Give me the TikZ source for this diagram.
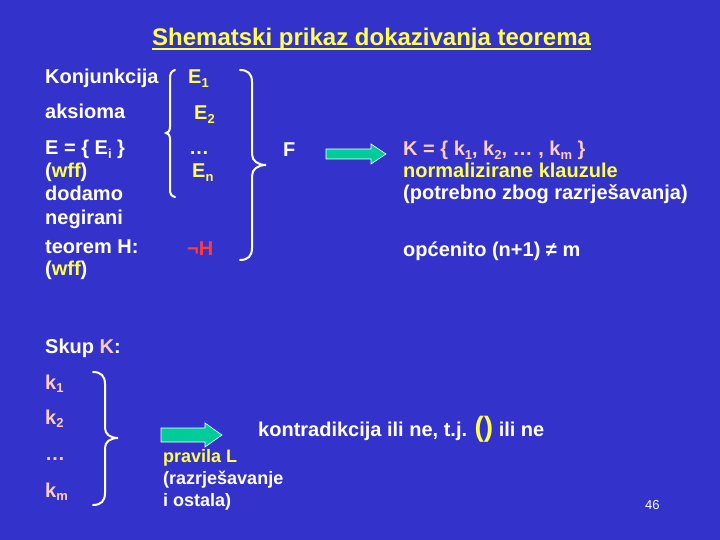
\documentclass[tikz,border=0pt]{standalone}
\usepackage{fontspec}
\setmainfont{Liberation Sans}
\definecolor{bg}{RGB}{51,51,204}
\definecolor{yel}{RGB}{255,255,80}
\definecolor{pnk}{RGB}{255,204,190}
\definecolor{rd}{RGB}{255,60,60}
\definecolor{grn}{RGB}{0,204,153}
\newcommand\mysb[1]{\raisebox{-3.5pt}{\fontsize{13}{13}\selectfont #1}}
\begin{document}
\begin{tikzpicture}[x=1pt,y=-1pt,
  txt/.style={anchor=base west, inner sep=0pt, text=white, font=\fontsize{20}{24}\selectfont\bfseries},
  small/.style={txt, font=\fontsize{18}{22}\selectfont\bfseries},
  brc/.style={draw=white, line width=2pt, line cap=round},
  blockarrow/.style={fill=grn, draw=white, line width=0.6pt, line join=miter}]
\fill[bg] (0,0) rectangle (720,540);
\useasboundingbox (0,0) rectangle (720,540);

% title
\node[txt, text=yel, font=\fontsize{24}{28}\selectfont\bfseries] (title) at (152,46) {Shematski prikaz dokazivanja teorema};
\draw[yel, line width=2pt] ([yshift=-3.5pt]title.base west) -- ([yshift=-3.5pt]title.base east);

% left column
\node[txt] (konj) at (45,84) {Konjunkcija};
\node[txt] (aks) at (45,119) {aksioma};
\node[txt] (eset) at (45,155) {E = \{ E\mysb{i} \}};
\node[txt] (wff1) at (45,178) {(\textcolor{yel}{wff})};
\node[txt] (dod) at (45,201) {dodamo};
\node[txt] (neg) at (45,225) {negirani};
\node[txt] (teo) at (45,253) {teorem H:};
\node[txt] (wff2) at (45,275) {(\textcolor{yel}{wff})};

% E column
\node[txt, text=yel] (e1) at (188,84) {E\mysb{1}};
\node[txt, text=yel] (e2) at (194,120) {E\mysb{2}};
\node[txt, text=yel] (edots) at (189,155) {…};
\node[txt, text=yel] (en) at (192,178) {E\mysb{n}};
\node[txt, text=rd] (negh) at (187,255) {¬H};

% small left brace
\draw[brc] (175,70) .. controls (171,71) and (170,74) .. (170,79) -- (170,127)
  .. controls (170,131) and (168,133) .. (166,133)
  .. controls (168,133) and (170,135) .. (170,139) -- (170,189)
  .. controls (170,194) and (171,196) .. (175,197);

% big right brace
\draw[brc] (240,70) .. controls (248,70) and (252,74) .. (252,82) -- (252,154)
  .. controls (252,161) and (258,165) .. (266,165)
  .. controls (258,165) and (252,169) .. (252,176) -- (252,248)
  .. controls (252,256) and (248,260) .. (240,260);

\node[txt] (F) at (283,157) {F};

% arrow 1
\filldraw[blockarrow] (326,149) -- (371,149) -- (371,144) -- (386,154) -- (371,164) -- (371,159) -- (326,159) -- cycle;

% K block
\node[txt, text=pnk] (kset) at (403,156) {K = \{ k\mysb{1}, k\mysb{2}, … , k\mysb{m} \}};
\node[txt, text=yel] (norm) at (403,178) {normalizirane klauzule};
\node[txt] (potr) at (403,200) {(potrebno zbog razrješavanja)};
\node[txt] (opc) at (403,256) {općenito (n+1) ≠ m};

% Skup K
\node[txt] (skup) at (45,353) {Skup \textcolor{pnk}{K}:};
\node[txt, text=pnk] (k1) at (45,389) {k\mysb{1}};
\node[txt, text=pnk] (k2) at (45,424) {k\mysb{2}};
\node[txt, text=pnk] (kdots) at (45,460) {…};
\node[txt, text=pnk] (km) at (45,497) {k\mysb{m}};

\draw[brc] (93,372) .. controls (101,372) and (105,376) .. (105,384) -- (105,428)
  .. controls (105,434) and (110,438) .. (118,438)
  .. controls (110,438) and (105,442) .. (105,448) -- (105,493)
  .. controls (105,501) and (101,505) .. (93,505);

% arrow 2
\filldraw[blockarrow] (161,428) -- (205,428) -- (205,423) -- (222,435) -- (205,447) -- (205,442) -- (161,442) -- cycle;

\node[txt] (kontr) at (258,436) {kontradikcija ili ne, t.j. {\fontsize{28}{28}\selectfont\textcolor{yel}{()}} ili ne};

\node[small, text=yel] (prav) at (163,462) {pravila L};
\node[small] (razr) at (163,484) {(razrješavanje};
\node[small] (ost) at (163,506) {i ostala)};

\node[txt, font=\fontsize{13}{15}\selectfont] (pg) at (645,509) {46};
\end{tikzpicture}
\end{document}
